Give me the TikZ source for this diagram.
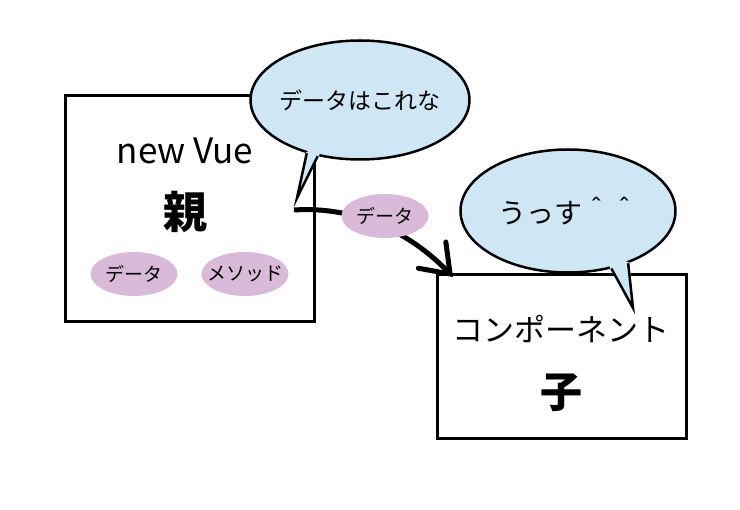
\documentclass[tikz,border=0pt]{standalone}
\usepackage{fontspec}
\setmainfont{Noto Sans CJK JP}
\usetikzlibrary{shapes.geometric,arrows.meta,calc}
\definecolor{bubblue}{HTML}{CFE6F4}
\definecolor{datapink}{HTML}{D9BAD8}
\tikzset{
  box/.style={draw=black,line width=3pt,fill=white,rectangle,inner sep=0pt},
  bubble/.style={ellipse,draw=black,line width=2.5pt,fill=bubblue,inner sep=0pt},
  pill/.style={ellipse,fill=datapink,inner sep=0pt,minimum width=87pt,minimum height=44pt},
  pilltext/.style={inner sep=0pt,font=\fontsize{19}{22}\selectfont},
  lbl/.style={inner sep=0pt},
  tail/.style={draw=black,line width=2.5pt,line join=miter},
}
\begin{document}
\begin{tikzpicture}[x=1pt,y=-1pt]
\useasboundingbox (0,0) rectangle (740,510);
% boxes
\node[box,minimum width=249pt,minimum height=226pt] (parent) at (189.5,209) {};
\node[box,minimum width=249pt,minimum height=164pt] (child) at (561.5,357) {};
\node[lbl,font=\fontsize{35}{38}\selectfont] (newvue) at (185,151) {new Vue};
\node[lbl,font=\fontsize{44}{48}\selectfont\bfseries] (oya) at (185,212) {親};
\node[pill] (pdata) at (134,274) {};
\node[pilltext] (pdatat) at (pdata.center) {データ};
\node[pill] (pmeth) at (245,274) {};
\node[pilltext] (pmetht) at (pmeth.center) {メソッド};
\node[lbl,font=\fontsize{31}{34}\selectfont] (comp) at (561,329) {コンポーネント};
\node[lbl,font=\fontsize{42}{46}\selectfont\bfseries] (ko) at (561,393) {子};
% arrow
\coordinate (astart) at (294,210);
\coordinate (aend) at (453,277);
\draw[line width=5pt,-{Straight Barb[length=26pt,width=38pt,line cap=round]}] (astart) .. controls (355,206) and (410,232) .. (aend);
\node[pill] (mdata) at (385,216) {};
\node[pilltext] (mdatat) at (mdata.center) {データ};
% bubble 1
\node[bubble,minimum width=219pt,minimum height=119pt] (b1) at (360,100) {};
\coordinate (t1) at (297,198);
\fill[bubblue] (b1.224) -- (t1) -- (b1.234) -- ($(b1.center)!0.8!(b1.229)$) -- cycle;
\draw[tail] (b1.225) -- (t1) -- (b1.233);
\node[lbl,font=\fontsize{23}{26}\selectfont] (b1t) at (b1.center) {データはこれな};
% bubble 2
\node[bubble,minimum width=215pt,minimum height=123pt] (b2) at (568,211) {};
\coordinate (t2) at (633,308);
\fill[bubblue] (b2.306) -- (t2) -- (b2.320) -- ($(b2.center)!0.8!(b2.313)$) -- cycle;
\draw[tail] (b2.307) -- (t2) -- (b2.319);
\node[lbl,font=\fontsize{28}{32}\selectfont] (b2t) at (b2.center) {うっす＾＾};
\end{tikzpicture}
\end{document}
